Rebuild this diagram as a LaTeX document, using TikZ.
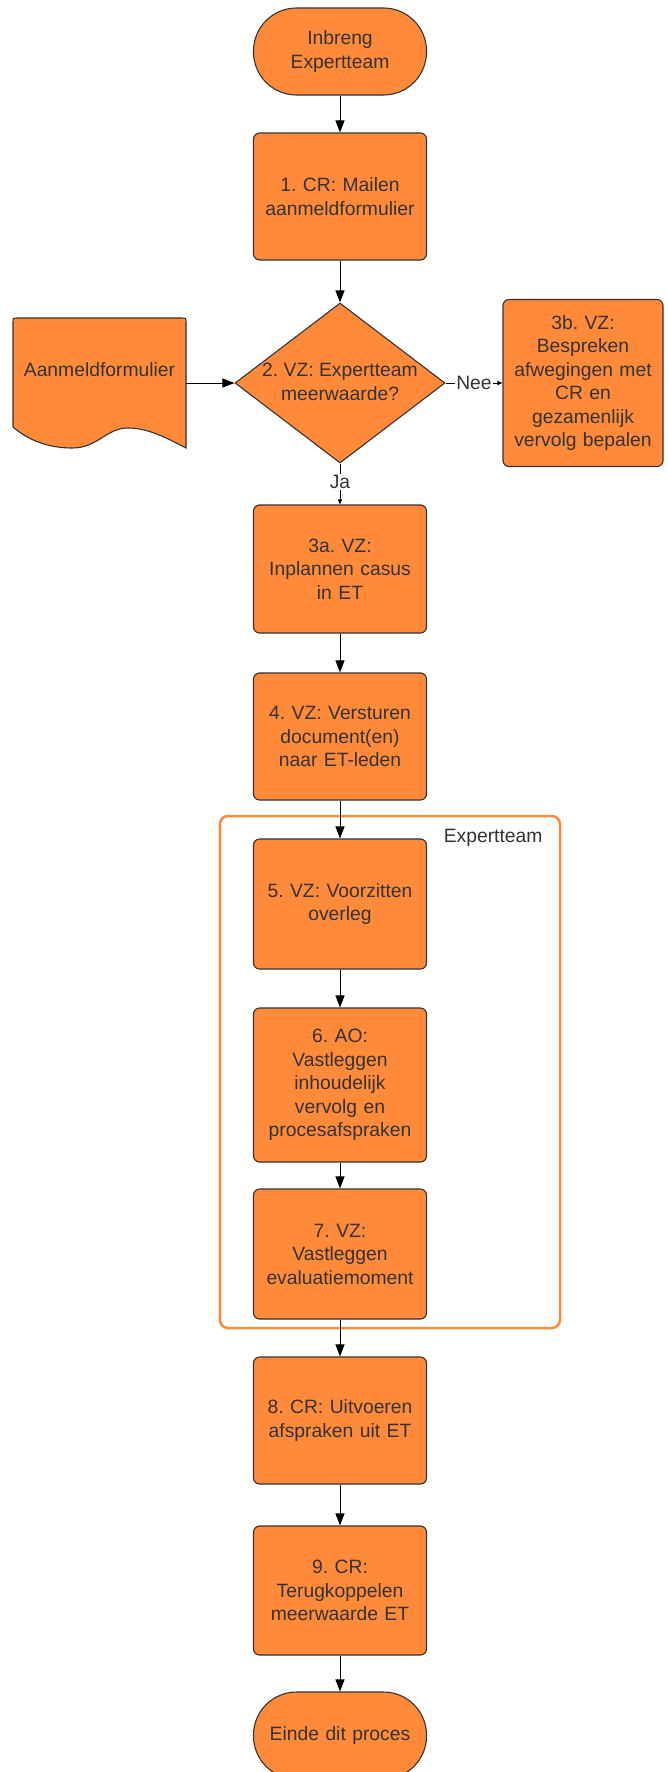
\documentclass[tikz,border=0pt]{standalone}
\usepackage{fontspec}
\setmainfont{Liberation Sans}
\usetikzlibrary{arrows.meta,shapes.geometric}
\frenchspacing
\definecolor{orng}{HTML}{FF8A3A}
\definecolor{edge}{HTML}{333333}
\definecolor{txt}{HTML}{333333}
\newcommand\boxfont{\fontsize{19.3pt}{23.5pt}\selectfont}
\tikzset{
  shapeline/.style={draw=edge, line width=1.1pt, fill=orng},
  procbox/.style={shapeline, rounded corners=6pt, minimum width=173pt, text width=170pt, align=center, inner sep=0pt, font=\boxfont, text=txt},
  termbox/.style={procbox, rounded corners=43pt, minimum height=87pt},
  arr/.style={draw=black, line width=1pt, -{Triangle[length=12pt,width=9pt]}},
  smallarr/.style={draw=black, line width=1pt, -{Triangle[length=5pt,width=4pt]}},
  lbl/.style={fill=white, inner sep=1pt, font=\boxfont, text=txt},
}
\begin{document}
\begin{tikzpicture}[x=1pt,y=-1pt]
\fill[white] (0,0) rectangle (667,1772);
\useasboundingbox (0,0) rectangle (667,1772);

% container
\node[draw=orng, line width=2.5pt, fill=white, rounded corners=8pt, minimum width=340pt, minimum height=512pt, inner sep=0pt] (cont) at (390,1072) {};
\node[font=\boxfont, text=txt, anchor=east] (contlbl) at (546,838) {Expertteam};

% nodes
\node[termbox] (start) at (340,51.5) {Inbreng\\Expertteam};
\node[procbox, minimum height=127pt] (b1) at (340,196.5) {1. CR: Mailen\\aanmeldformulier};
\node[shapeline, diamond, minimum width=210pt, minimum height=160pt, inner sep=0pt] (dia) at (340,383) {};
\node[font=\boxfont, text=txt, align=center] (diatext) at (340,382) {2. VZ: Expertteam\\meerwaarde?};
\node[procbox, minimum width=160pt, text width=158pt, minimum height=167pt] (b3b) at (583,383) {3b. VZ:\\Bespreken\\afwegingen met\\CR en\\gezamenlijk\\vervolg bepalen};

% document shape
\path[shapeline] (13,427) -- (13,323) .. controls (13,318) .. (18,318) -- (181,318) .. controls (186,318) .. (186,323) -- (186,448)
  .. controls (170,440) and (150,428) .. (128,428)
  .. controls (106,428) and (98,448) .. (72,448)
  .. controls (48,448) and (28,440) .. (13,427) -- cycle;
\node[minimum width=173pt, minimum height=130pt, inner sep=0pt] (doc) at (99.5,383) {};
\node[font=\boxfont, text=txt] (doctext) at (99.5,370) {Aanmeldformulier};

\node[procbox, minimum height=128pt] (b3a) at (340,569) {3a. VZ:\\Inplannen casus\\in ET};
\node[procbox, minimum height=127pt] (b4) at (340,736.5) {4. VZ: Versturen\\document(en)\\naar ET-leden};
\node[procbox, minimum height=130pt] (b5) at (340,904) {5. VZ: Voorzitten\\overleg};
\node[procbox, minimum height=154pt] (b6) at (340,1085) {6. AO:\\Vastleggen\\inhoudelijk\\vervolg en\\procesafspraken};
\node[procbox, minimum height=130pt] (b7) at (340,1254) {7. VZ:\\Vastleggen\\evaluatiemoment};
\node[procbox, minimum height=127pt] (b8) at (340,1420.5) {8. CR: Uitvoeren\\afspraken uit ET};
\node[procbox, minimum height=129pt] (b9) at (340,1590.5) {9. CR:\\Terugkoppelen\\meerwaarde ET};
\node[termbox] (end) at (340,1735.5) {Einde dit proces};

% connectors
\draw[arr] (start) -- (b1);
\draw[arr] (b1) -- (dia);
\draw[arr] (doc.east) -- (dia.west);
\draw[smallarr] (dia.east) -- node[lbl] (nee) {Nee} (b3b.west);
\draw[smallarr] (dia.south) -- node[lbl, pos=0.45] (ja) {Ja} (b3a.north);
\draw[arr] (b3a) -- (b4);
\draw[arr] (b4) -- (b5);
\draw[arr] (b5) -- (b6);
\draw[arr] (b6) -- (b7);
\draw[arr] (b7) -- (b8);
\draw[arr] (b8) -- (b9);
\draw[arr] (b9) -- (end);
\end{tikzpicture}
\end{document}
